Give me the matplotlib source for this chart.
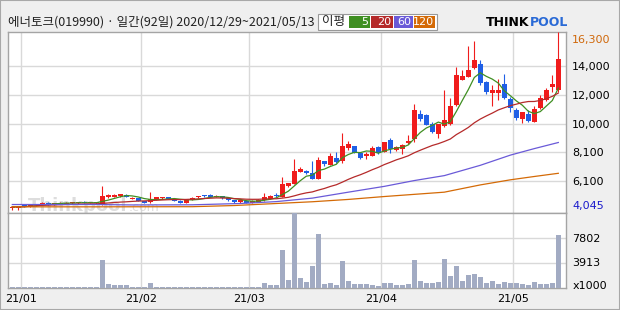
import matplotlib
matplotlib.use('Agg')
import matplotlib.pyplot as plt
from matplotlib.patches import Rectangle
import numpy as np
import pandas as pd

plt.rcParams['font.family'] = ['Noto Sans CJK KR', 'DejaVu Sans']

W, H = 620, 310

title = '에너토크(019990) · 일간(92일) 2020/12/29~2021/05/13'
month_labels = ['21/01', '21/02', '21/03', '21/04', '21/05']
month_start = [2, 22, 40, 62, 84]   # bar index of first trading day

# daily candles (won)
opens = [4180, 4230, 4380, 4330, 4400, 4430, 4560, 4470, 4500, 4500,
         4540, 4520, 4640, 4520, 4540, 4450, 4960, 5000, 5050, 5130,
         4850, 4880, 4700, 4600, 4780, 4900, 4980, 4840, 4720, 4560,
         4760, 4960, 5060, 5100, 4990, 5020, 4880, 4760, 4600, 4720,
         4560, 4640, 4740, 4830, 5120, 5000, 5700, 5880, 6720, 6780,
         6640, 6210, 7440, 7170, 7670, 7470, 8360, 8490, 8010, 7790,
         7810, 8420, 8080, 8880, 8200, 8270, 8660, 8950, 10710, 10590,
         9980, 9320, 9860, 9980, 11280, 13040, 13220, 13840, 14130, 12920,
         12120, 12120, 12760, 11690, 10940, 10370, 10660, 10140, 11120, 11620,
         12540, 12310]
highs = [4330, 4340, 4420, 4450, 4480, 4620, 4600, 4560, 4600, 4620,
         4620, 4640, 4680, 4580, 4600, 5700, 5150, 5150, 5180, 5200,
         4960, 4900, 4720, 5300, 4980, 5000, 5000, 4860, 4740, 4790,
         4960, 5040, 5120, 5140, 5080, 5040, 4900, 4780, 4780, 4740,
         4760, 4800, 5230, 5100, 5270, 6370, 5960, 7600, 7010, 6850,
         7440, 7740, 7460, 7970, 8040, 9340, 8810, 8500, 8080, 8090,
         8500, 8480, 8770, 9000, 8470, 8650, 9230, 11350, 10940, 10650,
         10150, 9960, 12310, 11780, 13900, 13680, 15390, 15730, 14430, 12980,
         12650, 13110, 13450, 11850, 11120, 10820, 10940, 11210, 12010, 12490,
         13400, 16300]
lows = [4045, 4100, 4290, 4300, 4350, 4400, 4450, 4440, 4470, 4480,
        4500, 4500, 4520, 4480, 4500, 4430, 4900, 4980, 5000, 4980,
        4800, 4700, 4520, 4560, 4750, 4860, 4820, 4700, 4540, 4540,
        4740, 4900, 4980, 4960, 4950, 4860, 4720, 4580, 4580, 4520,
        4540, 4600, 4720, 4800, 4980, 4980, 5680, 5860, 6700, 6560,
        6180, 6180, 7100, 7150, 7330, 7290, 8220, 7990, 7560, 7590,
        7790, 7900, 8050, 8000, 8150, 7930, 8600, 8770, 10210, 9900,
        9400, 9040, 9800, 9950, 11200, 12990, 13200, 13800, 12700, 12080,
        11210, 11620, 11700, 10830, 10300, 10070, 10150, 10140, 11050, 11550,
        12190, 12190]
closes = [4290, 4300, 4320, 4420, 4460, 4580, 4480, 4530, 4560, 4580,
          4570, 4610, 4540, 4560, 4580, 5020, 5080, 5100, 5140, 5000,
          4880, 4720, 4560, 4820, 4940, 4980, 4840, 4720, 4580, 4770,
          4930, 4990, 5040, 4980, 5010, 4880, 4760, 4620, 4740, 4560,
          4720, 4760, 4950, 5060, 5050, 5870, 5910, 6760, 6870, 6600,
          6210, 7510, 7240, 7790, 7350, 8470, 8610, 8010, 7670, 7920,
          8360, 7970, 8770, 8240, 8380, 8540, 8840, 10940, 10370, 9910,
          9450, 9960, 10250, 11210, 13400, 13270, 13680, 14430, 12810, 12190,
          12310, 12310, 11780, 11120, 10410, 10820, 10210, 11010, 11800, 12310,
          12720, 14480]
# volume, x1000 shares
volumes = [150, 150, 150, 150, 150, 150, 150, 150, 150, 150,
           150, 150, 150, 150, 150, 4250, 470, 320, 320, 320,
           150, 150, 150, 630, 150, 150, 150, 150, 150, 150,
           150, 150, 150, 150, 150, 150, 150, 150, 150, 150,
           150, 150, 630, 320, 320, 5830, 1100, 11600, 1420, 790,
           3310, 8350, 470, 630, 320, 4100, 950, 470, 470, 470,
           320, 160, 630, 630, 320, 320, 470, 4250, 950, 630,
           630, 790, 4410, 1730, 3310, 950, 1890, 2050, 1580, 630,
           950, 470, 790, 630, 630, 470, 320, 790, 470, 470,
           630, 8190]

# 60 / 120 day averages reach back before the window
ma60_idx = [0, 14, 20, 30, 38, 44, 50, 56, 62, 67, 72, 78, 83, 87, 91]
ma60_val = [4450, 4450, 4420, 4430, 4520, 4650, 4890, 5300, 5700, 6100,
            6440, 7150, 7850, 8300, 8720]
ma120_idx = [0, 14, 30, 37, 44, 50, 56, 62, 67, 72, 78, 83, 87, 91]
ma120_val = [4290, 4290, 4300, 4380, 4520, 4640, 4800, 5000, 5150, 5300,
             5800, 6150, 6380, 6600]

price_ticks = [6100, 8100, 10000, 12000, 14000]
price_max, price_min = 16300, 4045
vol_ticks = [3913, 7802]

ma_colors = {'5': '#3f8f22', '20': '#b52a2a', '60': '#6a5ad8', '120': '#d46a06'}
up_color, down_color = '#f01c1c', '#1f5fe6'
grid_color = '#d9d9d9'
frame_color = '#a4a4a4'


def fx(px):
    return px / W


def fy(py):
    return 1 - py / H


fig = plt.figure(figsize=(W / 100, H / 100), dpi=100, facecolor='#efefef')
ax = fig.add_axes([fx(8.3), fy(212.5), (566 - 8.3) / W, (212.5 - 31.7) / H])
axv = fig.add_axes([fx(8.3), fy(287.5), (566 - 8.3) / W, 75 / H], sharex=ax)

o = np.array(opens)
hi = np.array(highs)
lo = np.array(lows)
c = np.array(closes)
x = np.arange(len(c))
cols = np.where(c >= o, up_color, down_color)

# candles
ax.vlines(x, lo, hi, colors=cols, lw=0.8, zorder=3)
ax.bar(x, np.maximum(np.abs(c - o), 70), bottom=np.minimum(o, c), width=0.8,
       color=cols, linewidth=0, zorder=4)

# moving averages
cs = pd.Series(closes)
ax.plot(x, cs.rolling(5, min_periods=1).mean(), color=ma_colors['5'], lw=0.9, zorder=5)
ax.plot(x, cs.rolling(20, min_periods=1).mean(), color=ma_colors['20'], lw=0.9, zorder=5)
ax.plot(ma60_idx, ma60_val, color=ma_colors['60'], lw=0.9, zorder=5)
ax.plot(ma120_idx, ma120_val, color=ma_colors['120'], lw=0.9, zorder=5)

ax.text(0.035, 0.01, 'Thinkpool', transform=ax.transAxes, fontsize=13,
        fontweight='bold', color='#cfcfcf', alpha=0.7, zorder=1, family='DejaVu Sans')
ax.text(0.215, 0.01, '.com', transform=ax.transAxes, fontsize=9,
        color='#cfcfcf', alpha=0.7, zorder=1, family='DejaVu Sans')

# volume
axv.bar(x, volumes, width=0.82, color='#a2abc3', linewidth=0, zorder=3)

grid_x = np.array(month_start) - 0.5
for a in (ax, axv):
    a.set_facecolor('white')
    a.set_xlim(-0.67, 92.28)
    a.set_xticks(grid_x)
    a.grid(True, color=grid_color, lw=1.0, zorder=0)
    a.set_axisbelow(True)
    a.yaxis.tick_right()
    a.tick_params(length=0, labelsize=8, pad=4.5)
    for s in a.spines.values():
        s.set_color(frame_color)
        s.set_linewidth(1.0)
    for lab in a.get_yticklabels():
        lab.set_family('DejaVu Sans')

ax.set_ylim(3900, 16350)
ax.set_yticks(price_ticks)
ax.set_yticklabels([f'{v:,}' for v in price_ticks], family='DejaVu Sans')
ax.tick_params(labelbottom=False)

axv.set_ylim(0, 11739)
axv.set_yticks(vol_ticks)
axv.set_yticklabels([str(v) for v in vol_ticks], family='DejaVu Sans')
axv.set_xticklabels(month_labels, family='DejaVu Sans')
axv.tick_params(axis='x', pad=5)

# max / min labels
ax.annotate(f'{price_max:,}', xy=(1, 1), xycoords='axes fraction', xytext=(4.5, -6),
            textcoords='offset points', va='center', fontsize=8, color='#d0680a',
            family='DejaVu Sans')
ax.annotate(f'{price_min:,}', xy=(1, 0), xycoords='axes fraction', xytext=(4.5, 4.5),
            textcoords='offset points', va='center', fontsize=8, color='#1a1acc',
            family='DejaVu Sans')
axv.annotate('x1000', xy=(1, 0), xycoords='axes fraction', xytext=(4.5, 1),
             textcoords='offset points', va='center', fontsize=8, color='black',
             family='DejaVu Sans')

# header
fig.text(fx(8), fy(22), title, fontsize=9, va='center', color='#222222')

fig.add_artist(Rectangle((fx(318), fy(30)), 119 / W, 16 / H, transform=fig.transFigure,
                         facecolor='white', edgecolor='#999999', lw=0.8))
fig.text(fx(322), fy(22), '이평', fontsize=9, va='center', color='#222222')
boxes = [('5', 349, 370), ('20', 371, 393), ('60', 394, 413), ('120', 414, 435)]
for lab, x0, x1 in boxes:
    fig.add_artist(Rectangle((fx(x0), fy(28)), (x1 - x0) / W, 12 / H,
                             transform=fig.transFigure, facecolor=ma_colors[lab],
                             edgecolor='none'))
    fig.text(fx(x1 - 1.5), fy(22), lab, fontsize=8, va='center', ha='right',
             color='white', family='DejaVu Sans')

fig.text(fx(486), fy(22), 'THINK', fontsize=9, fontweight='bold', va='center',
         color='black', family='DejaVu Sans')
fig.text(fx(530), fy(22), 'POOL', fontsize=9, fontweight='bold', va='center',
         color='#2a6ad6', family='DejaVu Sans')

fig.add_artist(Rectangle((0, 0), 1, 1, transform=fig.transFigure, fill=False,
                         edgecolor='#a8a8a8', lw=1.5))

fig.savefig('out.png', dpi=100, facecolor=fig.get_facecolor())
